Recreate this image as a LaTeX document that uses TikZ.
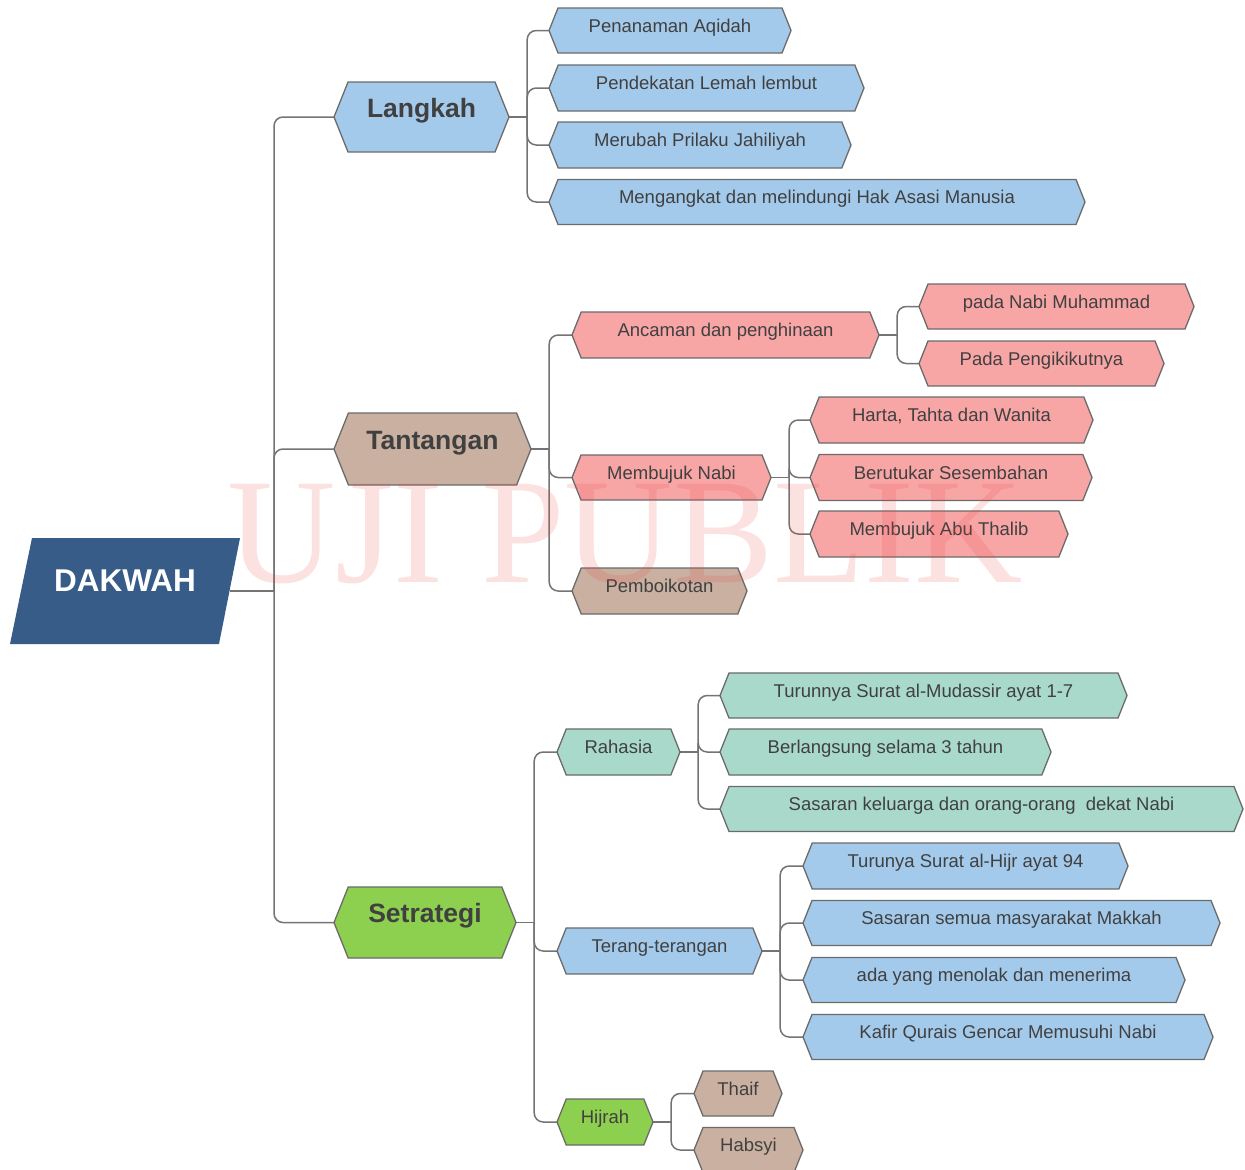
\documentclass[tikz,border=0pt]{standalone}
\usepackage{fontspec}
\setmainfont{Liberation Sans}
\newfontfamily\wmfont{Liberation Serif}
\pgfdeclarelayer{paper}
\pgfdeclarelayer{background}
\pgfsetlayers{paper,background,main}
\definecolor{cblue}{HTML}{A4CAEB}
\definecolor{cpink}{HTML}{F8A5A6}
\definecolor{cbrown}{HTML}{C9B0A1}
\definecolor{cgreen}{HTML}{8DCF4E}
\definecolor{cteal}{HTML}{A9D9CA}
\definecolor{cdak}{HTML}{375C88}
\definecolor{cborder}{HTML}{6B6B6B}
\definecolor{cline}{HTML}{747474}
\definecolor{ctext}{HTML}{404040}
\definecolor{cwm}{HTML}{F03C3C}
\tikzset{
  hexborder/.style={draw=cborder, line width=1.3pt, line join=miter},
  leaf/.style={inner sep=0pt, font=\fontsize{18.5}{20}\selectfont, text=ctext, text height=13pt, text depth=10pt},
  mainlbl/.style={inner sep=0pt, font=\fontsize{26.5}{28}\selectfont\bfseries, text=ctext, text height=14pt, text depth=14pt},
  conn/.style={draw=cline, line width=1.5pt, rounded corners=9pt},
}
% #1 name, #2 x left, #3 x right, #4 y centre, #5 half height, #6 fill, #7 label style, #8 text
\newcommand\hexn[8]{%
  \pgfmathsetmacro\hexin{0.4*#5}%
  \pgfmathsetmacro\hexw{#3-#2}%
  \pgfmathsetmacro\hexh{2*#5}%
  \pgfmathsetmacro\hexc{(#2+#3)/2}%
  \filldraw[hexborder,fill=#6] (#2,#4) -- (#2+\hexin,#4-#5) -- (#3-\hexin,#4-#5) -- (#3,#4) -- (#3-\hexin,#4+#5) -- (#2+\hexin,#4+#5) -- cycle;
  \node[#7, minimum width=\hexw pt, minimum height=\hexh pt] (#1) at (\hexc,#4) {#8};
}
\newcommand\linkkids[2]{%
  \coordinate (#1-j) at ([xshift=18pt]#1.east);
  \draw[conn] (#1.east) -- (#1-j);
  \foreach \ch in {#2} { \draw[conn] (#1-j) |- (\ch.west); }
}
\begin{document}
\begin{tikzpicture}[x=1pt, y=-1pt]
\useasboundingbox (0,0) rectangle (1245,1170);
\begin{pgfonlayer}{paper}
\fill[white] (0,0) rectangle (1245,1170);
\end{pgfonlayer}

% root
\fill[cdak] (32,538) -- (240,538) -- (219,644) -- (10,644) -- cycle;
\node[inner sep=0pt, minimum width=209pt, minimum height=106pt, text=white,
      font=\fontsize{31.5}{33}\selectfont\bfseries, text height=11pt, text depth=11pt] (dak) at (125,591) {DAKWAH};

% main branches
\hexn{lang}{334}{509}{117}{35}{cblue}{mainlbl}{Langkah}
\hexn{tant}{334}{531}{449}{36}{cbrown}{mainlbl}{Tantangan}
\hexn{setr}{334}{516}{922.5}{35.5}{cgreen}{mainlbl}{Setrategi}

% Langkah children
\hexn{pen}{549}{791}{30.5}{22.5}{cblue}{leaf}{Penanaman Aqidah}
\hexn{pend}{549}{864}{88}{23}{cblue}{leaf}{Pendekatan Lemah lembut}
\hexn{mer}{549}{851}{145}{23}{cblue}{leaf}{Merubah Prilaku Jahiliyah}
\hexn{meng}{549}{1085}{202}{22.5}{cblue}{leaf}{Mengangkat dan melindungi Hak Asasi Manusia}

% Tantangan children
\hexn{anc}{572}{879}{335}{23}{cpink}{leaf}{Ancaman dan penghinaan}
\hexn{bujuk}{572}{771}{477.5}{22.5}{cpink}{leaf}{Membujuk Nabi}
\hexn{boik}{572}{747}{591}{23}{cbrown}{leaf}{Pemboikotan}
\hexn{nabi}{919}{1194}{306.5}{22.5}{cpink}{leaf}{pada Nabi Muhammad}
\hexn{peng}{919}{1164}{363.5}{22.5}{cpink}{leaf}{Pada Pengikikutnya}
\hexn{harta}{810}{1093}{420}{23}{cpink}{leaf}{Harta, Tahta dan Wanita}
\hexn{tukar}{810}{1092}{477.5}{23}{cpink}{leaf}{Berutukar Sesembahan}
\hexn{abu}{810}{1068}{534}{23}{cpink}{leaf}{Membujuk Abu Thalib}

% Setrategi children
\hexn{rah}{557}{680}{752}{23}{cteal}{leaf}{Rahasia}
\hexn{ter}{557}{762}{951}{23}{cblue}{leaf}{Terang-terangan}
\hexn{hij}{557}{653}{1122}{23}{cgreen}{leaf}{Hijrah}
\hexn{mud}{720}{1127}{695.5}{22.5}{cteal}{leaf}{Turunnya Surat al-Mudassir ayat 1-7}
\hexn{lgs}{720}{1051}{752}{23}{cteal}{leaf}{Berlangsung selama 3 tahun}
\hexn{sask}{720}{1243}{809}{22.5}{cteal}{leaf}{Sasaran keluarga dan orang-orang\ \ dekat Nabi}
\hexn{hijr}{803}{1128}{866}{23}{cblue}{leaf}{Turunya Surat al-Hijr ayat 94}
\hexn{sass}{803}{1220}{923}{22.5}{cblue}{leaf}{Sasaran semua masyarakat Makkah}
\hexn{tolak}{803}{1185}{980}{22.5}{cblue}{leaf}{ada yang menolak dan menerima}
\hexn{kafir}{803}{1213}{1037}{22.5}{cblue}{leaf}{Kafir Qurais Gencar Memusuhi Nabi}
\hexn{thaif}{694}{782}{1093.5}{22.5}{cbrown}{leaf}{Thaif}
\hexn{habsyi}{694}{803}{1150}{22.5}{cbrown}{leaf}{Habsyi}

% connectors
\begin{pgfonlayer}{background}
\coordinate (rj) at (274,591);
\draw[conn] (dak.east) -- (rj);
\foreach \ch in {lang,tant,setr} { \draw[conn] (rj) |- (\ch.west); }
\linkkids{lang}{pen,pend,mer,meng}
\linkkids{tant}{anc,bujuk,boik}
\linkkids{anc}{nabi,peng}
\linkkids{bujuk}{harta,tukar,abu}
\linkkids{setr}{rah,ter,hij}
\linkkids{rah}{mud,lgs,sask}
\linkkids{ter}{hijr,sass,tolak,kafir}
\linkkids{hij}{thaif,habsyi}
\end{pgfonlayer}

% watermark
\node[anchor=base west, inner sep=0pt, font=\wmfont\fontsize{150}{150}\selectfont,
      text=cwm, text opacity=0.15] (wm) at (227,582) {UJI PUBLIK};
\end{tikzpicture}
\end{document}
